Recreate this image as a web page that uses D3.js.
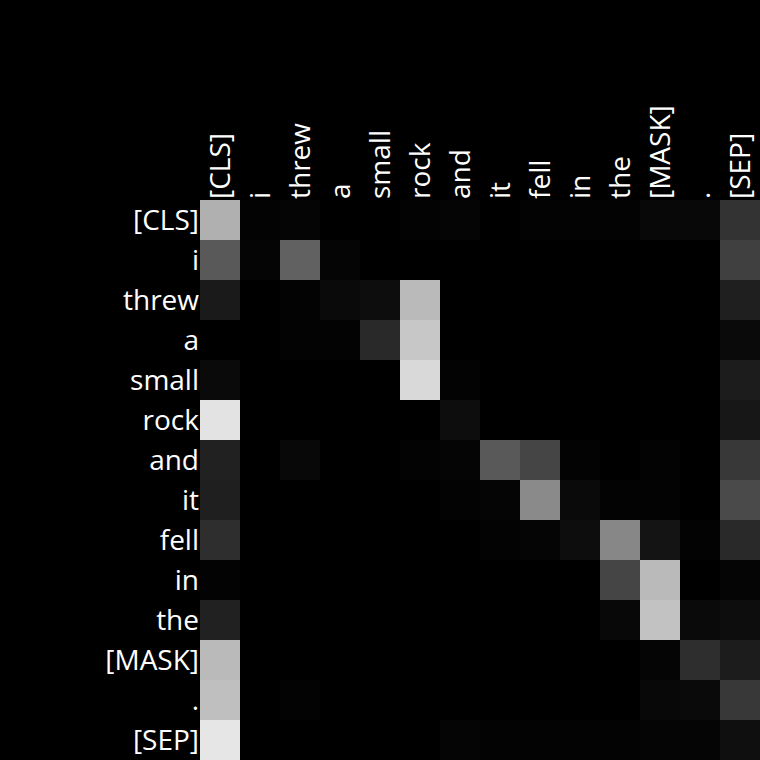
<!DOCTYPE html>
<html><head><meta charset="utf-8">
<script src="https://cdn.jsdelivr.net/npm/d3@7"></script>
<style>html,body{margin:0;padding:0;background:#000;overflow:hidden}</style>
</head><body><svg id="chart" width="760" height="760"></svg>
<script>
const tokens = ["[CLS]","i","threw","a","small","rock","and","it","fell","in","the","[MASK]",".","[SEP]"];
// attention weights (rows = query token, columns = key token)
const row_CLS  = [0.69,0.01,0.02,0.00,0.00,0.01,0.02,0.00,0.01,0.01,0.01,0.03,0.03,0.20];
const row_i    = [0.35,0.02,0.38,0.02,0.00,0.00,0.00,0.00,0.00,0.00,0.00,0.00,0.00,0.25];
const row_threw= [0.10,0.00,0.01,0.04,0.05,0.73,0.00,0.00,0.00,0.00,0.00,0.00,0.00,0.12];
const row_a    = [0.00,0.00,0.01,0.01,0.16,0.78,0.00,0.00,0.00,0.00,0.00,0.00,0.00,0.04];
const row_small= [0.04,0.00,0.00,0.00,0.00,0.85,0.01,0.00,0.00,0.00,0.00,0.00,0.00,0.11];
const row_rock = [0.89,0.00,0.00,0.00,0.00,0.00,0.05,0.00,0.00,0.00,0.00,0.00,0.00,0.09];
const row_and  = [0.13,0.00,0.03,0.00,0.00,0.01,0.02,0.35,0.27,0.01,0.00,0.01,0.00,0.22];
const row_it   = [0.12,0.00,0.00,0.00,0.00,0.00,0.01,0.02,0.54,0.04,0.01,0.01,0.00,0.29];
const row_fell = [0.18,0.00,0.00,0.00,0.00,0.00,0.00,0.01,0.02,0.05,0.53,0.08,0.01,0.16];
const row_in   = [0.01,0.00,0.00,0.00,0.00,0.00,0.00,0.00,0.00,0.00,0.27,0.73,0.00,0.02];
const row_the  = [0.13,0.00,0.00,0.00,0.00,0.00,0.00,0.00,0.00,0.00,0.03,0.76,0.04,0.05];
const row_MASK = [0.73,0.00,0.00,0.00,0.00,0.00,0.00,0.00,0.00,0.00,0.00,0.02,0.18,0.11];
const row_dot  = [0.75,0.00,0.01,0.00,0.00,0.00,0.00,0.00,0.00,0.00,0.00,0.03,0.04,0.22];
const row_SEP  = [0.90,0.00,0.00,0.00,0.00,0.00,0.02,0.01,0.01,0.01,0.01,0.02,0.02,0.06];
const matrix = [row_CLS,row_i,row_threw,row_a,row_small,row_rock,row_and,row_it,row_fell,row_in,row_the,row_MASK,row_dot,row_SEP];

const svg = d3.select("#chart");
const marginLeft = 200, marginTop = 200, gridSize = 560;
const x = d3.scaleBand().domain(d3.range(tokens.length)).range([marginLeft, marginLeft+gridSize]);
const y = d3.scaleBand().domain(d3.range(tokens.length)).range([marginTop, marginTop+gridSize]);
const color = d3.scaleLinear().domain([0,1]).range(["#000000","#ffffff"]);

svg.append("rect").attr("width",760).attr("height",760).attr("fill","#000");

const cells = [];
matrix.forEach((row,i)=>row.forEach((v,j)=>cells.push({i,j,v})));
svg.append("g").selectAll("rect").data(cells).join("rect")
  .attr("x",d=>x(d.j)).attr("y",d=>y(d.i))
  .attr("width",x.bandwidth()).attr("height",y.bandwidth())
  .attr("fill",d=>color(d.v));

const font = "'Open Sans', 'Noto Sans', sans-serif";
svg.append("g").selectAll("text").data(tokens).join("text")
  .attr("x",marginLeft-1).attr("y",(d,i)=>y(i)+y.bandwidth()/2)
  .attr("dy","0.35em").attr("text-anchor","end")
  .attr("fill","#fff").attr("font-family",font).attr("font-size",28)
  .text(d=>d);

svg.append("g").selectAll("text").data(tokens).join("text")
  .attr("transform",(d,i)=>`translate(${x(i)+x.bandwidth()/2},${marginTop-1}) rotate(-90)`)
  .attr("dy","0.35em").attr("text-anchor","start")
  .attr("fill","#fff").attr("font-family",font).attr("font-size",28)
  .text(d=>d);
</script></body></html>
